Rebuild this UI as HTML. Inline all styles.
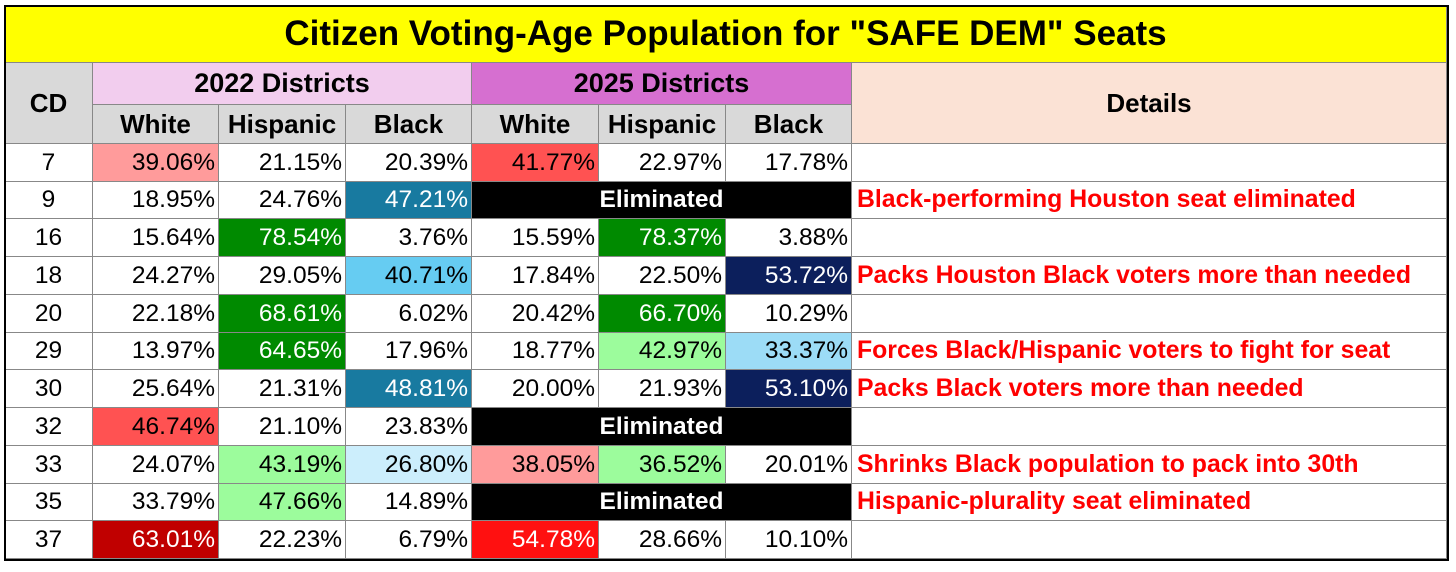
<!DOCTYPE html>
<html><head><meta charset="utf-8"><style>
body{margin:0;width:1456px;height:572px;background:#fff;position:relative;overflow:hidden;font-family:"Liberation Sans",Arial,sans-serif}
.c{position:absolute;box-sizing:border-box;display:flex;align-items:center;justify-content:center;font-size:24.5px;color:#000;border-right:1px solid #888;border-bottom:1px solid #888}
.h{font-weight:bold;font-size:26px}
.n{justify-content:flex-end;padding-right:3px}
.d{justify-content:flex-start;padding-left:5px;color:#f00;font-weight:bold;font-size:24.8px}
</style></head><body>
<div id="t"></div>
<script>
const cds=["7","9","16","18","20","29","30","32","33","35","37"];
const v22w=["39.06%","18.95%","15.64%","24.27%","22.18%","13.97%","25.64%","46.74%","24.07%","33.79%","63.01%"];
const v22h=["21.15%","24.76%","78.54%","29.05%","68.61%","64.65%","21.31%","21.10%","43.19%","47.66%","22.23%"];
const v22b=["20.39%","47.21%","3.76%","40.71%","6.02%","17.96%","48.81%","23.83%","26.80%","14.89%","6.79%"];
const v25w=["41.77%","","15.59%","17.84%","20.42%","18.77%","20.00%","","38.05%","","54.78%"];
const v25h=["22.97%","","78.37%","22.50%","66.70%","42.97%","21.93%","","36.52%","","28.66%"];
const v25b=["17.78%","","3.88%","53.72%","10.29%","33.37%","53.10%","","20.01%","","10.10%"];
const details=["","Black-performing Houston seat eliminated","","Packs Houston Black voters more than needed","","Forces Black/Hispanic voters to fight for seat","Packs Black voters more than needed","","Shrinks Black population to pack into 30th","Hispanic-plurality seat eliminated",""];
const bg={"39.06%":"#ff9b9b","41.77%":"#ff5252","46.74%":"#ff5252","63.01%":"#c00000","54.78%":"#ff1010","38.05%":"#ff9b9b",
"78.54%":"#008a00","68.61%":"#008a00","64.65%":"#008a00","78.37%":"#008a00","66.70%":"#008a00",
"43.19%":"#9cfc9c","47.66%":"#9cfc9c","42.97%":"#9cfc9c","36.52%":"#9cfc9c",
"47.21%":"#187aa0","48.81%":"#187aa0","40.71%":"#66ccf2","33.37%":"#9cdcf6","26.80%":"#cceefc","53.72%":"#0c1f5c","53.10%":"#0c1f5c"};
const light=new Set(["63.01%","54.78%","78.54%","68.61%","64.65%","78.37%","66.70%","47.21%","48.81%","53.72%","53.10%"]);
const X=[5,93,219,346,472,599,726,852,1447];
const root=document.body;
function cell(x,y,w,h,txt,cls,b,col){const e=document.createElement('div');e.className='c '+(cls||'');
e.style.cssText=`left:${x}px;top:${y}px;width:${w}px;height:${h}px;`+(b?`background:${b};`:'')+(col?`color:${col};`:'');e.textContent=txt;root.appendChild(e);return e;}
let e=cell(5,6,1442,57,'Citizen Voting-Age Population for "SAFE DEM" Seats','h','#ffff00');e.style.fontSize='35px';


e=cell(5,63,88,81,'CD','h','#d9d9d9');


e=cell(93,63,379,42,'2022 Districts','h','#f2cdee');e.style.fontSize='27px';


e=cell(472,63,380,42,'2025 Districts','h','#d66fd0');e.style.fontSize='27px';


e=cell(852,63,595,81,'Details','h','#fbe2d5');


const sub=["White","Hispanic","Black","White","Hispanic","Black"];
sub.forEach((s,i)=>{e=cell(X[i+1],105,X[i+2]-X[i+1],39,s,'h','#d9d9d9');

});
const rh=(559-144)/11;
cds.forEach((cd,r)=>{const y=Math.round(144+r*rh),h=Math.round(144+(r+1)*rh)-y;
e=cell(5,y,88,h,cd);


const vals=[v22w[r],v22h[r],v22b[r],v25w[r],v25h[r],v25b[r]];
if(!vals[3]){[0,1,2].forEach(i=>{e=cell(X[i+1],y,X[i+2]-X[i+1],h,vals[i],'n',bg[vals[i]],light.has(vals[i])?'#fff':null);

});
e=cell(472,y,380,h,'Eliminated','h','#000','#fff');e.style.fontSize='24.5px';

}
else vals.forEach((v,i)=>{e=cell(X[i+1],y,X[i+2]-X[i+1],h,v,'n',bg[v],light.has(v)?'#fff':null);

});
e=cell(852,y,595,h,details[r],'d');

});
const o=document.createElement('div');o.style.cssText='position:absolute;left:4px;top:5px;width:1445px;height:556px;border:2px solid #000;box-sizing:border-box;pointer-events:none';


root.appendChild(o);
</script>
</body></html>
